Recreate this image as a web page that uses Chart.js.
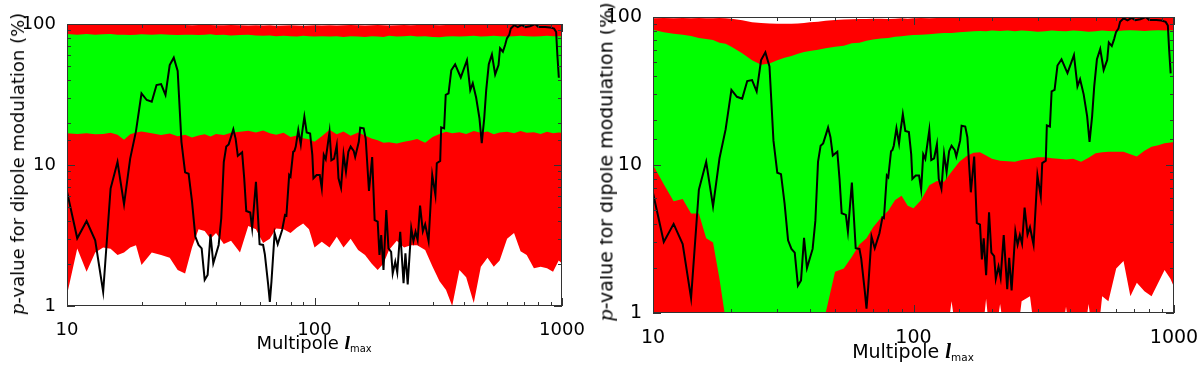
<!DOCTYPE html>
<html>
<head>
<meta charset="utf-8">
<script src="https://cdn.jsdelivr.net/npm/chart.js@4.4.1/dist/chart.umd.min.js"></script>
<style>
  body { margin: 0; background: #fff; }
  #page { position: relative; width: 1200px; height: 366px; overflow: hidden; font-family: "DejaVu Sans", sans-serif; color: #000; }
  .panel { position: absolute; top: 0; width: 600px; height: 366px; overflow: hidden; }
  .ytitle { position: absolute; white-space: nowrap; line-height: 1; transform: translate(-50%, -50%) rotate(-90deg); }
  .xtitle { position: absolute; white-space: nowrap; line-height: 1; transform: translateX(-50%); }
  .pv { font-family: "DejaVu Serif", serif; font-style: italic; }
  .ell { font-family: "Liberation Serif", serif; font-style: italic; font-weight: bold; font-size: 1.1em; }
  .sub { font-size: 0.55em; position: relative; top: 3px; }
</style>
</head>
<body>
<div id="page">
  <div class="panel" style="left:0">
    <canvas id="leftChart" width="600" height="366"></canvas>
    <div class="ytitle" style="left:18px; top:164px; font-size:18px"><span class="pv">p</span>-value for dipole modulation (%)</div>
    <div class="xtitle" style="left:314px; top:333px; font-size:18px">Multipole <span class="ell">l</span><span class="sub">max</span></div>
  </div>
  <div class="panel" style="left:600px">
    <canvas id="rightChart" width="600" height="366"></canvas>
    <div class="ytitle" style="left:6px; top:162px; font-size:19px"><span class="pv">p</span>-value for dipole modulation (%)</div>
    <div class="xtitle" style="left:313px; top:341px; font-size:19px">Multipole <span class="ell">l</span><span class="sub">max</span></div>
  </div>
</div>
<script>
// tick labels
const xTickLabels = [10, 100, 1000];
const yTickLabels = [1, 10, 100];

// black curve (same in both panels)
const lineEll = [10, 11, 12, 13, 14, 15, 16, 17, 18, 19, 20, 21, 22, 23, 24, 25, 26, 27, 28, 29,
  30, 31, 32, 33, 34, 35, 36, 37, 38, 39, 41, 42, 43, 44, 45, 47, 48, 49, 51, 52,
  53, 55, 56, 58, 60, 62, 63, 65, 66, 67, 69, 71, 74, 76, 77, 79, 80, 82, 83, 84,
  86, 88, 89, 91, 93, 96, 98, 99, 102, 105, 107, 109, 111, 115, 117, 120, 123, 125, 128, 131,
  134, 137, 140, 144, 146, 151, 153, 158, 161, 166, 171, 175, 180, 183, 186, 190, 195, 199, 204, 207,
  212, 216, 222, 229, 233, 238, 246, 251, 256, 261, 267, 274, 280, 289, 299, 308, 312, 322, 325, 334,
  339, 348, 357, 370, 390, 413, 426, 436, 450, 464, 474, 485, 494, 506, 521, 537, 554, 562, 577, 589,
  599, 612, 621, 641, 663, 688, 710, 743, 779, 803, 855, 895, 929, 947, 958, 971];
const lineP = [6.47, 3.02, 4.0, 2.92, 1.26, 6.8, 10.5, 5.26, 11.1, 17.4, 32.2, 28.9, 28.1, 36.9, 37.5, 31.4, 51.2, 57.7, 46.4, 14.6,
  8.87, 8.67, 5.49, 3.1, 2.71, 2.56, 1.53, 1.66, 3.22, 2.01, 2.71, 4.19, 10.5, 13.5, 14.0, 17.9, 15.4, 11.6, 12.3, 8.05,
  4.72, 4.6, 3.55, 7.6, 2.74, 2.71, 2.33, 1.41, 1.07, 1.49, 3.28, 2.74, 3.46, 4.42, 4.37, 8.5, 8.26, 12.4, 12.6, 13.5,
  17.7, 14.0, 16.7, 22.0, 17.0, 16.7, 11.8, 8.05, 8.5, 8.5, 6.84, 11.8, 11.0, 17.2, 10.8, 11.1, 13.8, 8.05, 6.9, 11.9,
  8.95, 12.4, 13.5, 12.6, 11.4, 14.6, 18.4, 18.2, 15.4, 6.54, 11.4, 4.07, 3.96, 2.3, 3.19, 1.8, 4.79, 2.56, 2.42, 1.7,
  2.06, 1.73, 3.36, 1.45, 2.36, 1.42, 3.55, 2.89, 3.36, 2.94, 5.15, 3.39, 3.8, 2.89, 8.5, 6.13, 10.3, 10.7, 18.5, 18.2,
  31.4, 32.2, 47, 51.8, 41.8, 55.3, 34.0, 38.0, 30, 21.4, 14.3, 21.4, 34, 51.8, 60.7, 43.9, 51.2, 67.3, 63.6, 70.9,
  79.1, 83.7, 92.8, 98.0, 95.0, 98.6, 95.0, 96.5, 100, 95.4, 95.4, 94.6, 92.7, 87.7, 60, 41.6];

// multipoles at which the shaded bands were read
const bandEll = [10, 11, 12, 13, 14, 15, 16, 17, 18, 19, 20,
  22, 24, 26, 28, 30, 32, 34, 36, 38, 40,
  43, 46, 50, 54, 58, 62, 66, 70, 75, 80, 85, 90, 95, 100,
  107, 115, 123, 131, 140, 150, 160, 170, 180, 190, 200,
  215, 230, 245, 260, 280, 300, 320, 340, 360, 385, 410, 440, 470, 500, 530, 560, 600, 640, 680, 720, 770, 820, 870, 920, 970, 1000];

// left panel bands
const leftRedTop = [99, 99.5, 99, 99.5, 99, 99, 99.5, 99, 98.5, 99, 99,
  99, 98.5, 99, 99, 98.5, 98, 98.5, 99, 98.5, 98,
  98, 98.5, 98, 97.5, 98, 97.5, 98, 97, 97.5, 98, 97.5, 97, 97.5, 98,
  97.5, 98, 97.5, 98, 98.5, 98, 97.5, 98, 98.5, 98, 97.5,
  98, 98.5, 98, 98.5, 99, 98.5, 98, 98.5, 99, 98.5, 99, 99.5, 99, 98.5, 99, 99.5, 99, 99, 99.5, 99, 99.5, 99, 99.5, 99, 99.5, 99.5];
const leftGreenHigh = [85, 84, 85, 84, 84.5, 85, 84, 84, 83.5, 84, 84.5,
  84, 84.5, 84, 83.5, 84, 84, 83.5, 84, 84.5, 83.5,
  84, 83, 83.5, 84, 83, 82.5, 83, 82, 82.5, 82, 81.5, 82.5, 82, 81.5,
  82, 81.5, 82, 81, 82, 81.5, 81, 82, 81.5, 81, 82.5,
  81.5, 82, 82.5, 81.5, 82, 81, 80.5, 81.5, 82, 81.5, 82, 82.5, 81.5, 82, 82.5, 82, 81.5, 82, 82.5, 82, 81.5, 82, 82.5, 82, 82, 82];
const leftGreenLow = [16.8, 16.6, 16.8, 16.5, 16.6, 16.9, 16.4, 15.1, 16.5, 17.0, 17.3,
  16.8, 16.3, 16.7, 16.0, 16.4, 15.7, 16.2, 16.5, 15.9, 16.6,
  16.3, 16.9, 17.2, 17.5, 17.0, 17.6, 16.8, 16.4, 16.9, 15.8, 16.2, 15.5, 15.2, 14.6,
  16.0, 17.8, 16.5, 17.3, 16.1, 17.0, 16.2, 15.4, 15.0, 14.4, 14.5,
  14.2, 14.6, 14.9, 15.3, 14.4, 15.8, 16.6, 17.2, 16.8, 17.1, 16.6, 17.4, 16.9, 17.3, 16.5, 17.0, 17.2, 16.8, 17.4, 16.9, 17.1, 16.6, 17.2, 16.8, 17.0, 16.9];
const leftRedLow = [1.2, 2.56, 1.75, 2.4, 2.6, 2.55, 2.3, 2.4, 2.6, 2.7, 1.95,
  2.4, 2.3, 2.2, 1.8, 1.7, 2.6, 3.5, 3.4, 3.0, 3.3,
  2.75, 2.9, 2.4, 3.7, 3.5, 2.8, 3.0, 3.55, 3.5, 3.3, 3.6, 3.85, 3.5, 2.6,
  2.85, 2.6, 3.1, 2.6, 3.0, 2.5, 2.3, 2.0, 1.8, 2.0, 2.5,
  2.9, 2.6, 2.7, 2.7, 2.5, 1.9, 1.5, 1.3, 1.0, 1.8, 1.6, 1.05, 1.9, 2.2, 1.9, 2.1, 3.0, 3.3, 2.45, 2.3, 1.85, 1.9, 1.85, 1.75, 2.1, 2.0];

// right panel bands
const rightRedTop = [98, 98.5, 98, 98.5, 98, 98.5, 98, 98, 98.5, 98, 97.5,
  95, 92, 91, 90.5, 90, 90, 90, 90.5, 91, 92,
  93, 94.5, 95.5, 96, 96.5, 97, 97, 97.5, 97.5, 97, 97.5, 98, 97.5, 98,
  98.5, 98, 98.5, 99, 98.5, 99, 98.5, 99, 99, 99.5, 99,
  99, 99.5, 99, 99.5, 99, 99.5, 99, 99.5, 99.5, 99, 99.5, 99.5, 99, 99.5, 99.5, 99, 99.5, 99.5, 99, 99.5, 99.5, 99.5, 99, 99.5, 99.5, 99.5];
const rightGreenHigh = [82, 79, 77, 76, 74.5, 72, 71, 70, 67, 66, 63,
  57, 51, 47.5, 48.5, 51, 53, 54.5, 56.5, 58, 59,
  60, 61.5, 63, 64, 66.5, 67, 69, 70.5, 71.5, 72, 73.5, 74, 75, 75.5,
  76, 76.5, 77.5, 78, 78, 79, 79.5, 80, 80.5, 80, 81,
  80.5, 81, 80, 81, 80.5, 79.5, 80, 81, 80.5, 80, 81, 80.5, 79.5, 80, 81, 80.5, 80, 81, 81.5, 81, 80.5, 81, 81.5, 81, 81.5, 81];
const rightGreenLow = [10, 7.4, 5.7, 5.9, 4.7, 4.7, 3.2, 3.0, 1.7, 0.9, 0.5,
  0.5, 0.5, 0.5, 0.5, 0.5, 0.5, 0.5, 0.5, 0.5, 0.5,
  0.5, 1.0, 1.9, 2.0, 2.4, 2.9, 3.2, 3.8, 4.4, 4.9, 5.8, 6.2, 5.3, 5.1,
  5.8, 7.3, 7.8, 7.7, 9.0, 10.5, 11.5, 12.1, 12.2, 11.6, 11.0,
  10.7, 10.6, 10.5, 10.8, 11.0, 11.3, 11.3, 11.1, 11.0, 10.9, 11.0, 10.5, 11.2, 12.0, 12.2, 12.3, 12.3, 12.3, 11.8, 11.4, 12.5, 13.3, 13.6, 14.0, 14.2, 14.3];
const rightRedLow = [0.5, 0.5, 0.5, 0.5, 0.5, 0.5, 0.5, 0.5, 0.5, 0.5, 0.5,
  0.5, 0.5, 0.5, 0.5, 0.5, 0.5, 0.5, 0.5, 0.5, 0.5,
  0.5, 0.5, 0.5, 0.5, 0.5, 0.5, 0.5, 0.5, 0.5, 0.5, 0.5, 0.5, 0.5, 0.5,
  0.5, 0.5, 0.5, 0.5, 1.2, 0.5, 0.5, 0.5, 0.5, 1.25, 0.5,
  1.15, 0.5, 0.5, 1.2, 1.3, 0.5, 0.5, 0.5, 0.5, 1.1, 0.5, 0.5, 1.15, 0.5, 1.3, 1.2, 2.0, 2.25, 1.3, 1.6, 1.4, 1.3, 1.6, 1.95, 1.7, 1.5];

// frame with inward ticks on all four sides, like the original plot
const framePlugin = {
    id: "frame",
    afterDatasetsDraw(chart) {
        const { ctx, chartArea: a, scales } = chart;
        const big = chart.options.tickBig;
        ctx.save();
        ctx.strokeStyle = "#333";
        ctx.lineWidth = 1;
        ctx.beginPath();
        scales.x.ticks.forEach(t => {
            const px = Math.round(scales.x.getPixelForValue(t.value)) + 0.5;
            const len = xTickLabels.includes(t.value) ? big : big / 2;
            ctx.moveTo(px, a.bottom);
            ctx.lineTo(px, a.bottom - len);
            ctx.moveTo(px, a.top);
            ctx.lineTo(px, a.top + len);
        });
        scales.y.ticks.forEach(t => {
            const py = Math.round(scales.y.getPixelForValue(t.value)) + 0.5;
            const len = yTickLabels.includes(t.value) ? big : big / 2;
            ctx.moveTo(a.left, py);
            ctx.lineTo(a.left + len, py);
            ctx.moveTo(a.right, py);
            ctx.lineTo(a.right - len, py);
        });
        ctx.stroke();
        ctx.strokeRect(a.left + 0.5, a.top + 0.5, a.width - 1, a.height - 1);
        ctx.restore();
    }
};

function pts(xs, ys) {
    return xs.map((x, i) => ({ x: x, y: ys[i] }));
}

function bandSet(ys, color, target, order) {
    return {
        data: pts(bandEll, ys),
        borderColor: "rgba(0,0,0,0)",
        borderWidth: 0,
        pointRadius: 0,
        backgroundColor: color || "rgba(0,0,0,0)",
        fill: target === undefined ? false : target,
        order: order
    };
}

function makePanel(id, bands, box) {
    const ctx = document.getElementById(id).getContext("2d");
    const font = { family: "DejaVu Sans", size: box.fontSize };
    return new Chart(ctx, {
        type: "line",
        data: {
            datasets: [
                { data: pts(lineEll, lineP), borderColor: "#000", borderWidth: 2, pointRadius: 0, fill: false, order: 0 },
                bandSet(bands.greenLow, null, undefined, 1),
                bandSet(bands.greenHigh, "#00ff00", 1, 1),
                bandSet(bands.redLow, null, undefined, 2),
                bandSet(bands.redTop, "#ff0000", 3, 2)
            ]
        },
        options: {
            responsive: false,
            animation: false,
            events: [],
            tickBig: box.tickBig,
            layout: { padding: { left: 0, right: box.right, top: box.top, bottom: 0 } },
            plugins: { legend: { display: false }, tooltip: { enabled: false } },
            scales: {
                x: {
                    type: "logarithmic",
                    min: 10,
                    max: 1000,
                    grid: { display: false },
                    border: { display: false },
                    ticks: {
                        autoSkip: false,
                        maxRotation: 0,
                        padding: box.xPad,
                        color: "#000",
                        font: font,
                        callback: v => xTickLabels.includes(v) ? String(v) : ""
                    },
                    afterFit: s => { s.height = box.xHeight; s.paddingLeft = 0; s.paddingRight = 0; }
                },
                y: {
                    type: "logarithmic",
                    min: 1,
                    max: 100,
                    grid: { display: false },
                    border: { display: false },
                    ticks: {
                        autoSkip: false,
                        padding: 3,
                        color: "#000",
                        font: font,
                        callback: v => yTickLabels.includes(v) ? String(v) : ""
                    },
                    afterFit: s => { s.width = box.yWidth; s.paddingTop = 0; s.paddingBottom = 0; }
                }
            }
        },
        plugins: [framePlugin]
    });
}

makePanel("leftChart",
    { redTop: leftRedTop, greenHigh: leftGreenHigh, greenLow: leftGreenLow, redLow: leftRedLow },
    { top: 24, right: 38, yWidth: 67, xHeight: 60, xPad: 6, fontSize: 18, tickBig: 8 });

makePanel("rightChart",
    { redTop: rightRedTop, greenHigh: rightGreenHigh, greenLow: rightGreenLow, redLow: rightRedLow },
    { top: 17, right: 26, yWidth: 53, xHeight: 53, xPad: 6, fontSize: 19, tickBig: 8 });
</script>
</body>
</html>
